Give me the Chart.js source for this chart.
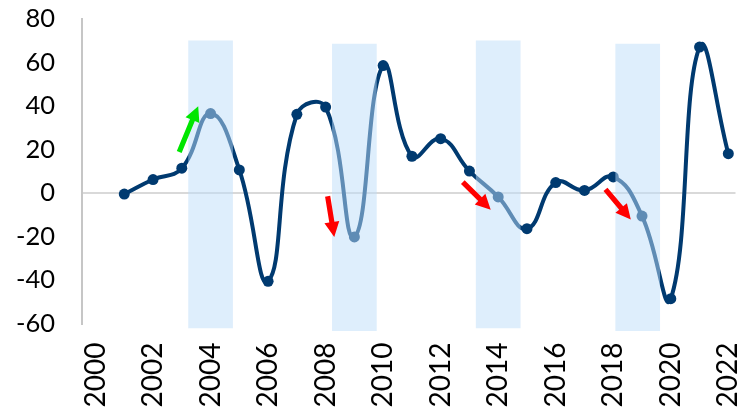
<!DOCTYPE html>
<html>
<head>
<meta charset="utf-8">
<script src="https://cdn.jsdelivr.net/npm/chart.js@4"></script>
<style>
  html, body { margin: 0; padding: 0; background: #ffffff; }
  canvas { display: block; }
</style>
</head>
<body>
<canvas id="chart" width="741" height="408"></canvas>
<script>
// Annual change, 2001-2022
const years  = [2001, 2002, 2003, 2004, 2005, 2006, 2007, 2008, 2009, 2010, 2011,
                2012, 2013, 2014, 2015, 2016, 2017, 2018, 2019, 2020, 2021, 2022];
const values = [-0.5, 6.2, 11.4, 36.5, 10.6, -40.6, 36.2, 39.5, -20.2, 58.6, 16.9,
                25.0, 10.1, -1.8, -16.4, 4.8, 1.2, 7.4, -10.6, -48.6, 67.1, 18.1];

// Axis tick labels
const xTickYears = [2000, 2002, 2004, 2006, 2008, 2010, 2012, 2014, 2016, 2018, 2020, 2022];
const yTickValues = [-60, -40, -20, 0, 20, 40, 60, 80];

// Shaded periods (centre year, lower and upper edge)
const bandYears = [2004, 2009, 2014, 2018.85];
const bandLow   = [-62, -63.3, -62, -63.3];
const bandHigh  = [70, 68.5, 70, 68.5];

// Direction arrows: from [year, value] to [year, value]
const arrowFrom = [[2002.91, 18.9], [2008.07, -1.5], [2012.77, 5.0], [2017.73, 1.7]];
const arrowTo   = [[2003.57, 39.9], [2008.30, -20.2], [2013.74, -7.7], [2018.61, -12.2]];
const arrowColors = ['#00e600', '#ff0000', '#ff0000', '#ff0000'];

const NAVY = '#003a70';
const FAMILY = 'Lato, "DejaVu Sans", sans-serif';

const arrowPlugin = {
  id: 'arrows',
  afterDatasetsDraw(chart) {
    const { ctx, scales: { x, y } } = chart;
    ctx.save();
    arrowFrom.forEach((from, i) => {
      const x0 = x.getPixelForValue(from[0]), y0 = y.getPixelForValue(from[1]);
      const x1 = x.getPixelForValue(arrowTo[i][0]), y1 = y.getPixelForValue(arrowTo[i][1]);
      const len = Math.hypot(x1 - x0, y1 - y0);
      const ux = (x1 - x0) / len, uy = (y1 - y0) / len;
      const px = -uy, py = ux;
      const shaft = 2.6, head = 7.5, headLen = 15;
      const bx = x1 - ux * headLen, by = y1 - uy * headLen;
      ctx.beginPath();
      ctx.moveTo(x0 + px * shaft, y0 + py * shaft);
      ctx.lineTo(bx + px * shaft, by + py * shaft);
      ctx.lineTo(bx + px * head, by + py * head);
      ctx.lineTo(x1, y1);
      ctx.lineTo(bx - px * head, by - py * head);
      ctx.lineTo(bx - px * shaft, by - py * shaft);
      ctx.lineTo(x0 - px * shaft, y0 - py * shaft);
      ctx.closePath();
      ctx.fillStyle = arrowColors[i];
      ctx.fill();
    });
    ctx.restore();
  }
};

new Chart(document.getElementById('chart'), {
  type: 'line',
  data: {
    datasets: [
      {
        type: 'bar',
        data: bandYears.map((yr, i) => ({ x: yr, y: [bandLow[i], bandHigh[i]] })),
        backgroundColor: 'rgba(189, 221, 249, 0.5)',
        borderWidth: 0,
        barThickness: 44,
        clip: false,
        order: 0
      },
      {
        type: 'line',
        data: years.map((yr, i) => ({ x: yr, y: values[i] })),
        borderColor: NAVY,
        borderWidth: 4,
        tension: 0.45,
        pointRadius: 5.5,
        pointBackgroundColor: NAVY,
        pointBorderWidth: 0,
        clip: false,
        order: 1
      }
    ]
  },
  options: {
    responsive: false,
    devicePixelRatio: 1,
    animation: false,
    events: [],
    layout: { padding: { top: 19, left: 0, right: 0.5, bottom: 0 } },
    plugins: { legend: { display: false }, tooltip: { enabled: false } },
    scales: {
      x: {
        type: 'linear',
        min: 1999.53,
        max: 2022.25,
        offset: false,
        grid: { display: false, drawTicks: false },
        border: { display: false },
        afterBuildTicks: (s) => { s.ticks = xTickYears.map(v => ({ value: v })); },
        afterFit: (s) => {
          s.height = 84.5;
          s.paddingLeft = 0; s.paddingRight = 0;
        },
        ticks: {
          autoSkip: false,
          minRotation: 90,
          maxRotation: 90,
          padding: 19,
          color: '#000000',
          font: { family: FAMILY, size: 28 },
          callback: (v) => String(v)
        }
      },
      y: {
        min: -60,
        max: 80,
        afterBuildTicks: (s) => { s.ticks = yTickValues.map(v => ({ value: v })); },
        afterFit: (s) => {
          s.width = 82;
          s.paddingTop = 0; s.paddingBottom = 0;
        },
        grid: {
          drawTicks: false,
          lineWidth: 2,
          color: (c) => (c.tick && c.tick.value === 0 ? '#d9d9d9' : 'rgba(0,0,0,0)')
        },
        border: { display: true, color: '#c6c6c6', width: 2 },
        ticks: {
          padding: 27,
          color: '#000000',
          font: { family: FAMILY, size: 25.5 },
          callback: (v) => String(v)
        }
      }
    }
  },
  plugins: [arrowPlugin]
});
</script>
</body>
</html>
